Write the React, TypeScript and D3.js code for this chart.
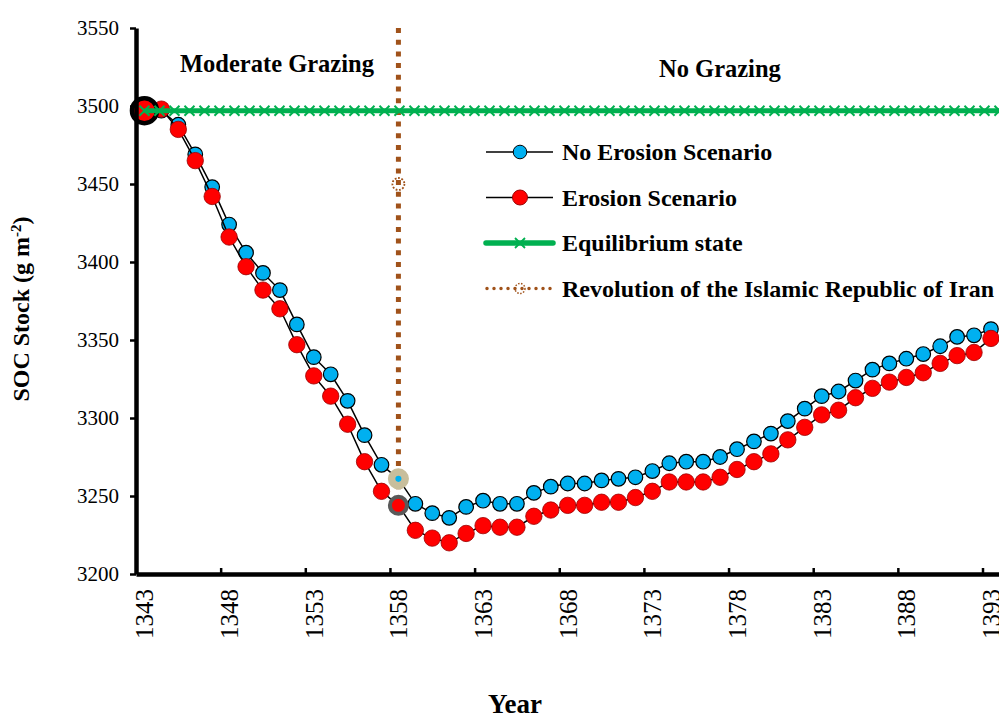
import * as d3 from "d3";
import { useEffect, useRef } from "react";

// categories (one per year)
const years = [
  1343, 1344, 1345, 1346, 1347, 1348, 1349, 1350, 1351, 1352, 1353, 1354, 1355,
  1356, 1357, 1358, 1359, 1360, 1361, 1362, 1363, 1364, 1365, 1366, 1367, 1368,
  1369, 1370, 1371, 1372, 1373, 1374, 1375, 1376, 1377, 1378, 1379, 1380, 1381,
  1382, 1383, 1384, 1385, 1386, 1387, 1388, 1389, 1390, 1391, 1392, 1393,
];

const noErosion = [
  3497, 3497, 3488, 3469, 3448, 3424, 3406, 3393, 3382, 3360, 3339, 3328, 3311,
  3289, 3270, 3261, 3245, 3239, 3236, 3243, 3247, 3245, 3245, 3252, 3256, 3258,
  3258, 3260, 3261, 3262, 3266, 3271, 3272, 3272, 3275, 3280, 3285, 3290, 3298,
  3306, 3314, 3317, 3324, 3331, 3335, 3338, 3341, 3346, 3352, 3353, 3357,
];

const erosion = [
  3497, 3498, 3485, 3465, 3442, 3416, 3397, 3382, 3370, 3347, 3327, 3314, 3296,
  3272, 3253, 3244, 3228, 3223, 3220, 3226, 3231, 3230, 3230, 3237, 3241, 3244,
  3244, 3246, 3246, 3249, 3253, 3259, 3259, 3259, 3262, 3267, 3272, 3277, 3286,
  3294, 3302, 3305, 3313, 3319, 3323, 3326, 3329, 3335, 3340, 3342, 3351,
];

// equilibrium series (own, denser point spacing)
const equilibrium = [
  3497, 3497, 3497, 3497, 3497, 3497, 3497, 3497, 3497, 3497, 3497, 3497, 3497,
  3497, 3497, 3497, 3497, 3497, 3497, 3497, 3497, 3497, 3497, 3497, 3497, 3497,
  3497, 3497, 3497, 3497, 3497, 3497, 3497, 3497, 3497, 3497, 3497, 3497, 3497,
  3497, 3497, 3497, 3497, 3497, 3497, 3497, 3497, 3497, 3497, 3497, 3497, 3497,
  3497, 3497, 3497, 3497, 3497, 3497,
];

// revolution marker line (year 1358)
const revolutionYear = 1358;
const revolutionLine = [3550, 3244];
const revolutionMarker = 3450;

const yTicks = [3200, 3250, 3300, 3350, 3400, 3450, 3500, 3550];
const xTickYears = [1343, 1348, 1353, 1358, 1363, 1368, 1373, 1378, 1383, 1388, 1393];

const legendItems = [
  "No Erosion Scenario",
  "Erosion Scenario",
  "Equilibrium state",
  "Revolution of the Islamic Republic of Iran",
];

const W = 999;
const H = 718;
const left = 136;
const bottom = 574;
const top = 28;
const font = "Liberation Serif";
const BLUE = "#00B0F0";
const RED = "#FF0000";
const GREEN = "#00B050";
const BROWN = "#A0521A";
const xMark = "M-5,-5L5,5M-5,5L5,-5";

export default function App() {
  const yAxisRef = useRef<SVGGElement>(null);
  const xAxisRef = useRef<SVGGElement>(null);

  const x = d3.scaleBand<number>().domain(years).range([left, left + years.length * 16.93]).padding(0);
  const xb = d3.scaleLinear().domain([1343, 1394]).range([left, left + years.length * 16.93]);
  const cx = (yr: number) => (x(yr) ?? 0) + x.bandwidth() / 2;
  const y = d3.scaleLinear().domain([3200, 3550]).range([bottom, top]);
  const xe = d3
    .scalePoint<number>()
    .domain(d3.range(equilibrium.length))
    .range([cx(1343), cx(1343) + (equilibrium.length - 1) * 15]);

  const line = d3
    .line<number>()
    .x((_, i) => cx(years[i]))
    .y((d) => y(d));

  useEffect(() => {
    const ya = d3
      .axisLeft(y)
      .tickValues(yTicks)
      .tickSize(6)
      .tickSizeOuter(0)
      .tickPadding(11)
      .tickFormat(d3.format("d") as any);
    const gy = d3.select(yAxisRef.current!).attr("transform", `translate(${left},0)`).call(ya as any);
    gy.attr("font-family", font).attr("font-size", 21);
    gy.select(".domain").attr("stroke", "#000").attr("stroke-width", 4.5);
    gy.selectAll(".tick line").attr("stroke-width", 2.5);
    gy.selectAll(".tick text").attr("fill", "#000");

    const xa = d3
      .axisBottom(xb)
      .tickValues(xTickYears)
      .tickSizeInner(-6)
      .tickSizeOuter(0)
      .tickFormat(() => "");
    const gx = d3.select(xAxisRef.current!).attr("transform", `translate(0,${bottom})`).call(xa as any);
    gx.select(".domain").attr("stroke", "#000").attr("stroke-width", 4.5);
    gx.selectAll(".tick line").attr("stroke-width", 2.5);
  }, []);

  const rx = cx(revolutionYear);

  return (
    <svg width={W} height={H} style={{ position: "absolute", left: 0, top: 0, background: "#fff" }} fontFamily={font}>
      {/* revolution dotted line */}
      <line
        x1={rx}
        x2={rx}
        y1={y(revolutionLine[0])}
        y2={y(revolutionLine[1])}
        stroke={BROWN}
        strokeWidth={5}
        strokeDasharray="5,6.7"
      />
      <circle cx={rx} cy={y(revolutionMarker)} r={6} fill="none" stroke={BROWN} strokeWidth={1.8} strokeDasharray="1.8,1.6" />

      {/* no erosion series */}
      <path d={line(noErosion) ?? ""} fill="none" stroke="#000" strokeWidth={1.5} />
      {noErosion.map((v, i) => (
        <circle key={"b" + i} cx={cx(years[i])} cy={y(v)} r={7.3} fill={BLUE} stroke="#000" strokeWidth={1.2} />
      ))}

      {/* erosion series */}
      <path d={line(erosion) ?? ""} fill="none" stroke="#000" strokeWidth={1.5} />
      {erosion.map((v, i) => (
        <circle key={"r" + i} cx={cx(years[i])} cy={y(v)} r={8.2} fill={RED} stroke="#9a0000" strokeWidth={0.8} />
      ))}

      {/* highlighted points */}
      <circle cx={cx(1343)} cy={y(erosion[0])} r={12.5} fill={RED} stroke="#000" strokeWidth={4.5} />
      <circle cx={rx} cy={y(noErosion[years.indexOf(revolutionYear)])} r={6.8} fill={BLUE} stroke="#C8BE9C" strokeWidth={7.5} />
      <circle cx={rx} cy={y(erosion[years.indexOf(revolutionYear)])} r={8.5} fill={RED} stroke="#5A5A5A" strokeWidth={4} />

      {/* equilibrium */}
      <path
        d={d3.line<number>().x((_, i) => xe(i) ?? 0).y((d) => y(d))(equilibrium) ?? ""}
        fill="none"
        stroke={GREEN}
        strokeWidth={5}
      />
      {equilibrium.map((v, i) => (
        <path key={"e" + i} d={xMark} transform={`translate(${xe(i)},${y(v)})`} stroke={GREEN} strokeWidth={2} />
      ))}

      {/* axes */}
      <g ref={yAxisRef} />
      <g ref={xAxisRef} />
      {xTickYears.map((yr) => (
        <text
          key={yr}
          transform={`translate(${cx(yr) + 9},589) rotate(-90)`}
          textAnchor="end"
          fontSize={25}
        >
          {yr}
        </text>
      ))}

      {/* titles */}
      <text x={515} y={713} textAnchor="middle" fontSize={27} fontWeight="bold">
        Year
      </text>
      <text transform="translate(29,309) rotate(-90)" textAnchor="middle" fontSize={24} fontWeight="bold">
        SOC Stock (g m<tspan baselineShift="super" fontSize={15}>-2</tspan>)
      </text>
      <text x={180} y={72} fontSize={24.5} fontWeight="bold">
        Moderate Grazing
      </text>
      <text x={659} y={77} fontSize={24.5} fontWeight="bold">
        No Grazing
      </text>

      {/* legend */}
      {legendItems.map((label, i) => {
        const ly = 152 + i * 45.5;
        return (
          <g key={label}>
            {i < 2 && (
              <>
                <line x1={486} x2={553} y1={ly} y2={ly} stroke="#000" strokeWidth={1.5} />
                <circle cx={520} cy={ly} r={i === 0 ? 6.8 : 7.5} fill={i === 0 ? BLUE : RED} stroke={i === 0 ? "#000" : "#9a0000"} strokeWidth={1} />
              </>
            )}
            {i === 2 && (
              <>
                <line x1={486} x2={553} y1={ly} y2={ly} stroke={GREEN} strokeWidth={5.5} strokeLinecap="round" />
                <path d={xMark} transform={`translate(520,${ly})`} stroke={GREEN} strokeWidth={1.8} />
              </>
            )}
            {i === 3 && (
              <>
                <line x1={487} x2={553} y1={ly} y2={ly} stroke={BROWN} strokeWidth={3.5} strokeDasharray="0,7" strokeLinecap="round" />
                <circle cx={520} cy={ly} r={5} fill="none" stroke={BROWN} strokeWidth={1.5} strokeDasharray="1.5,1.5" />
              </>
            )}
            <text x={562} y={ly} dominantBaseline="central" fontSize={24} fontWeight="bold">
              {label}
            </text>
          </g>
        );
      })}
    </svg>
  );
}
